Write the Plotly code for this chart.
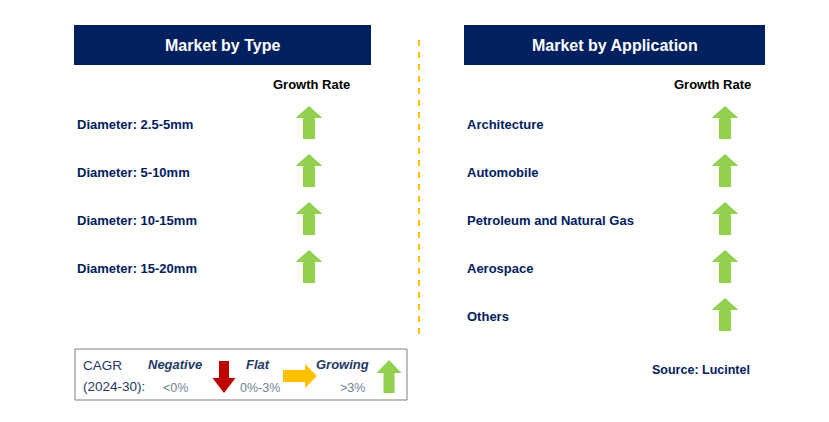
import plotly.graph_objects as go

# ---------------- data ----------------
type_categories = ["Diameter: 2.5-5mm", "Diameter: 5-10mm", "Diameter: 10-15mm", "Diameter: 15-20mm"]
type_growth = ["Growing", "Growing", "Growing", "Growing"]
app_categories = ["Architecture", "Automobile", "Petroleum and Natural Gas", "Aerospace", "Others"]
app_growth = ["Growing", "Growing", "Growing", "Growing", "Growing"]
panel_titles = ["Market by Type", "Market by Application"]
legend_labels = ["Negative", "Flat", "Growing"]
legend_ranges = ["<0%", "0%-3%", ">3%"]
source_text = "Source: Lucintel"

# ---------------- style ----------------
W, H = 829, 422
NAVY = "#002060"
GREEN = "#92D050"
RED = "#C00000"
ORANGE = "#FFC000"
FONT = "Liberation Sans, Arial, sans-serif"

fig = go.Figure()
shapes = []
ann = []


def up_arrow(cx, top, color, h=33, hw=27, sw=12, hh=12):
    x0, x1 = cx - hw / 2, cx + hw / 2
    s0, s1 = cx - sw / 2, cx + sw / 2
    return dict(type="path", xref="x", yref="y", fillcolor=color, line=dict(width=0),
                path=f"M {cx} {top} L {x1} {top+hh} L {s1} {top+hh} L {s1} {top+h} "
                     f"L {s0} {top+h} L {s0} {top+hh} L {x0} {top+hh} Z")


def down_arrow(cx, top, color, h=32, hw=23, sw=10, hh=15):
    x0, x1 = cx - hw / 2, cx + hw / 2
    s0, s1 = cx - sw / 2, cx + sw / 2
    b = top + h
    return dict(type="path", xref="x", yref="y", fillcolor=color, line=dict(width=0),
                path=f"M {s0} {top} L {s1} {top} L {s1} {b-hh} L {x1} {b-hh} L {cx} {b} "
                     f"L {x0} {b-hh} L {s0} {b-hh} Z")


def right_arrow(left, cy, color, w=34, hh=24, sh=12, hw=12):
    r = left + w
    return dict(type="path", xref="x", yref="y", fillcolor=color, line=dict(width=0),
                path=f"M {left} {cy-sh/2} L {r-hw} {cy-sh/2} L {r-hw} {cy-hh/2} L {r} {cy} "
                     f"L {r-hw} {cy+hh/2} L {r-hw} {cy+sh/2} L {left} {cy+sh/2} Z")


arrow_color = {"Growing": GREEN, "Flat": ORANGE, "Negative": RED}

panels = [
    dict(x0=74, x1=371, label_x=75, arrow_x=309, gr_x=311, cats=type_categories, growth=type_growth,
         title=panel_titles[0]),
    dict(x0=464, x1=765, label_x=465, arrow_x=725, gr_x=712, cats=app_categories, growth=app_growth,
         title=panel_titles[1]),
]

for p in panels:
    shapes.append(dict(type="rect", xref="x", yref="y", x0=p["x0"], x1=p["x1"], y0=25, y1=65,
                       fillcolor=NAVY, line=dict(width=0)))
    ann.append(dict(x=(p["x0"] + p["x1"]) / 2, y=45, text=f"<b>{p['title']}</b>", showarrow=False,
                    font=dict(family=FONT, size=16, color="white"), xanchor="center", yanchor="middle"))
    ann.append(dict(x=p["gr_x"], y=84, text="<b>Growth Rate</b>", showarrow=False,
                    font=dict(family=FONT, size=13, color="black"), xanchor="center", yanchor="middle"))
    for i, (c, g) in enumerate(zip(p["cats"], p["growth"])):
        yc = 124 + 48 * i
        ann.append(dict(x=p["label_x"], y=yc, text=f"<b>{c}</b>", showarrow=False,
                        font=dict(family=FONT, size=13, color=NAVY), xanchor="left", yanchor="middle"))
        shapes.append(up_arrow(p["arrow_x"], yc - 18, arrow_color[g]))

# dashed divider
shapes.append(dict(type="line", xref="x", yref="y", x0=419, x1=419, y0=40, y1=340,
                   line=dict(color=ORANGE, width=2, dash="6px,6px")))

# legend box
shapes.append(dict(type="rect", xref="x", yref="y", x0=75, x1=407, y0=349, y1=400,
                   fillcolor="white", line=dict(color="#7F7F7F", width=1)))
ann.append(dict(x=81, y=365, text="CAGR", showarrow=False, xanchor="left", yanchor="middle",
                font=dict(family=FONT, size=13.5, color="#1F3864")))
ann.append(dict(x=81, y=386, text="(2024-30):", showarrow=False, xanchor="left", yanchor="middle",
                font=dict(family=FONT, size=13.5, color="#1F3864")))
leg_x = [175, 258, 342]
range_x = [175, 260, 352]
for lx, rx, lab, rng in zip(leg_x, range_x, legend_labels, legend_ranges):
    ann.append(dict(x=lx, y=364, text=f"<b><i>{lab}</i></b>", showarrow=False, xanchor="center", yanchor="middle",
                    font=dict(family=FONT, size=13, color="#1F3864")))
    ann.append(dict(x=rx, y=388, text=rng, showarrow=False, xanchor="center", yanchor="middle",
                    font=dict(family=FONT, size=12.5, color="#6F7F95")))
shapes.append(down_arrow(224, 361, RED))
shapes.append(right_arrow(283, 376, ORANGE))
shapes.append(up_arrow(389, 360, GREEN, h=33, hw=25, sw=11, hh=13))

ann.append(dict(x=701, y=370, text=f"<b>{source_text}</b>", showarrow=False, xanchor="center", yanchor="middle",
                font=dict(family=FONT, size=12.5, color=NAVY)))

fig.update_layout(
    width=W, height=H, margin=dict(l=0, r=0, t=0, b=0),
    paper_bgcolor="white", plot_bgcolor="white",
    xaxis=dict(range=[0, W], visible=False, fixedrange=True),
    yaxis=dict(range=[H, 0], visible=False, fixedrange=True),
    shapes=shapes, annotations=ann, showlegend=False,
)
fig.write_html("out.html", config={"displayModeBar": False},
               post_script="document.body.style.margin='0';document.body.style.overflow='hidden';")
